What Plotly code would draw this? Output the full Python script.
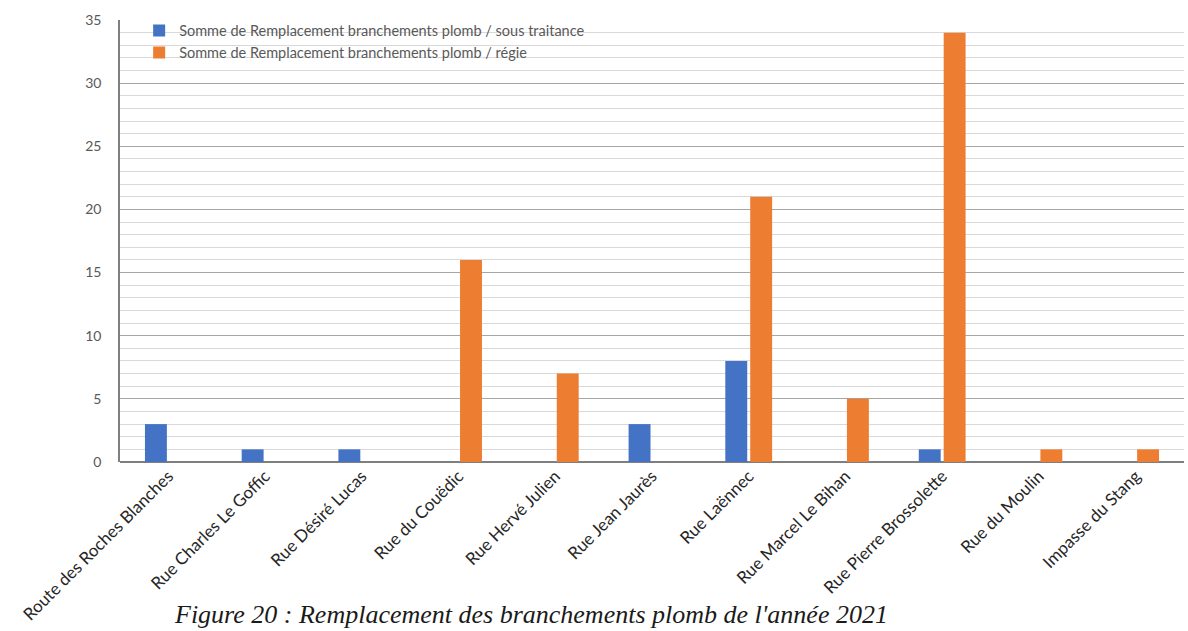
import plotly.graph_objects as go

# Streets where lead service connections were replaced
streets = [
    "Route des Roches Blanches",
    "Rue Charles Le Goffic",
    "Rue Désiré Lucas",
    "Rue du Couëdic",
    "Rue Hervé Julien",
    "Rue Jean Jaurès",
    "Rue Laënnec",
    "Rue Marcel Le Bihan",
    "Rue Pierre Brossolette",
    "Rue du Moulin",
    "Impasse du Stang",
]

# Number of replacements per street (None = no replacement)
sous_traitance = [3, 1, 1, None, None, 3, 8, None, 1, None, None]
regie = [None, None, None, 16, 7, None, 21, 5, 34, 1, 1]

series_names = [
    "Somme de Remplacement branchements plomb / sous traitance",
    "Somme de Remplacement branchements plomb / régie",
]

y_ticks = [0, 5, 10, 15, 20, 25, 30, 35]

caption = "Figure 20 : Remplacement des branchements plomb de l'année 2021"

BLUE = "#4472C4"
ORANGE = "#ED7D31"
FONT = "Lato"

fig = go.Figure()
fig.add_trace(go.Bar(x=streets, y=sous_traitance, name=series_names[0],
                     marker=dict(color=BLUE, line=dict(width=0))))
fig.add_trace(go.Bar(x=streets, y=regie, name=series_names[1],
                     marker=dict(color=ORANGE, line=dict(width=0))))

fig.update_layout(
    width=1188,
    height=631,
    margin=dict(l=120, r=4, t=20, b=169),
    paper_bgcolor="white",
    plot_bgcolor="white",
    barmode="group",
    bargap=0.485,
    bargroupgap=0.12,
    font=dict(family=FONT, color="#595959"),
    showlegend=True,
    legend=dict(
        x=0.018, y=1.012, xanchor="left", yanchor="top",
        bgcolor="rgba(255,255,255,0)",
        font=dict(family=FONT, size=14.5, color="#595959"),
        tracegroupgap=0,
        itemsizing="constant",
    ),
    xaxis=dict(
        tickangle=-45,
        tickfont=dict(family=FONT, size=17, color="#262626"),
        showline=False,
        showgrid=False,
        ticks="",
    ),
    yaxis=dict(
        range=[0, 35],
        tickvals=y_ticks,
        tickfont=dict(family=FONT, size=14, color="#595959"),
        ticklabelstandoff=14,
        showline=True,
        linecolor="#7f7f7f",
        linewidth=1.5,
        showgrid=True,
        gridcolor="#a6a6a6",
        gridwidth=1,
        zeroline=True,
        zerolinecolor="#7f7f7f",
        zerolinewidth=1.5,
        minor=dict(dtick=1, showgrid=True, gridcolor="#d9d9d9", gridwidth=1),
    ),
)

fig.add_annotation(
    text=caption,
    xref="paper", yref="paper",
    x=(172 - 120) / 1064, y=-(631 - 462) / 442,
    xanchor="left", yanchor="bottom",
    showarrow=False,
    font=dict(family="Liberation Serif", size=26, color="#1a1a1a", style="italic"),
)

fig.write_html("out.html")
